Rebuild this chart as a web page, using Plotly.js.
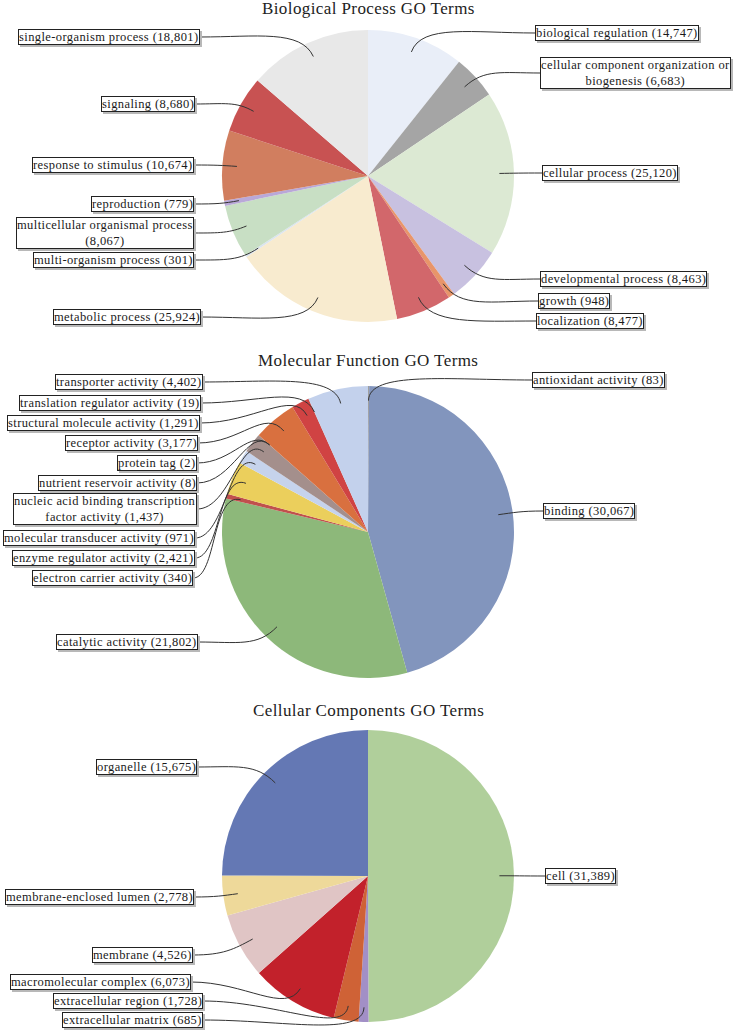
<!DOCTYPE html>
<html><head><meta charset="utf-8">
<script src="https://cdn.plot.ly/plotly-3.0.1.min.js"></script>
<style>html,body{margin:0;padding:0;background:#fff}#chart{width:736px;height:1035px}
.annotation-text{letter-spacing:0.4px}</style>
</head><body><div id="chart"></div>
<script>
// ---------- DATA ----------
const bpTitle = "Biological Process GO Terms";
const bpCats = ["biological regulation","cellular component organization or biogenesis","cellular process","developmental process","growth","localization","metabolic process","multi-organism process","multicellular organismal process","reproduction","response to stimulus","signaling","single-organism process"];
const bpVals = [14747,6683,25120,8463,948,8477,25924,301,8067,779,10674,8680,18801];

const mfTitle = "Molecular Function GO Terms";
const mfCats = ["antioxidant activity","binding","catalytic activity","electron carrier activity","enzyme regulator activity","molecular transducer activity","nucleic acid binding transcription factor activity","nutrient reservoir activity","protein tag","receptor activity","structural molecule activity","translation regulator activity","transporter activity"];
const mfVals = [83,30067,21802,340,2421,971,1437,8,2,3177,1291,19,4402];

const ccTitle = "Cellular Components GO Terms";
const ccCats = ["cell","extracellular matrix","extracellular region","macromolecular complex","membrane","membrane-enclosed lumen","organelle"];
const ccVals = [31389,685,1728,6073,4526,2778,15675];

// ---------- STYLE / LAYOUT ----------
const bpColors = ["#e9eef8","#a5a5a5","#dce9d3","#c8c1e0","#e8956a","#d2676b","#f8ebcf","#dae4ef","#c8dfc4","#b9a8d8","#d17e5f","#c85252","#e8e8e8"];
const mfColors = ["#a0a0a0","#8295bd","#8db87a","#c0504d","#ebcf5c","#c6d3ec","#a48f8c","#888888","#888888","#d9703f","#d04343","#888888","#c3d1ec"];
const ccColors = ["#b0cf9b","#a28fc6","#cf6236","#c2212b","#e0c5c5","#eed99a","#6478b4"];

// label box placement: [side, edge x (px), centre y (px)]
const bpLabelPos = [["R",535,33],["R",540,73],["R",542,173],["R",540,279],["R",538,301],["R",536,321],["L",201,317],["L",194,260],["L",194,233],["L",194,204],["L",194,165],["L",195,104],["L",200,37]];
const mfLabelPos = [["R",532,380],["R",543,511],["L",198,642],["L",193,578],["L",195,558],["L",195,538],["L",197,509],["L",197,483],["L",197,463],["L",198,443],["L",200,423],["L",201,403],["L",203,382]];
const ccLabelPos = [["R",545,876],["L",203,1020],["L",203,1001],["L",191,982],["L",193,955],["L",194,897],["L",197,767]];

const W = 736, H = 1035, R = 146;
const charts = [
  {title:bpTitle, titleY:9, cats:bpCats, vals:bpVals, colors:bpColors, pos:bpLabelPos, cx:368, cy:176},
  {title:mfTitle, titleY:361, cats:mfCats, vals:mfVals, colors:mfColors, pos:mfLabelPos, cx:368, cy:532},
  {title:ccTitle, titleY:710, cats:ccCats, vals:ccVals, colors:ccColors, pos:ccLabelPos, cx:368, cy:876}
];

const FONT = "Liberation Serif";
function fmt(v){ return v.toLocaleString("en-US"); }
function wrap(s){
  if (s.length <= 36) return s;
  const i = s.lastIndexOf(" ", 35);
  return s.slice(0,i) + "<br>" + s.slice(i+1);
}

const traces = [];
const shapes = [];
const annotations = [];

traces.push({type:"scatter", x:[0,W], y:[0,H], mode:"markers", marker:{opacity:0}, hoverinfo:"skip", showlegend:false, xaxis:"x", yaxis:"y"});

charts.forEach(c => {
  traces.push({
    type:"pie", values:c.vals, labels:c.cats, sort:false, direction:"clockwise", rotation:0,
    textinfo:"none", hoverinfo:"label+value", showlegend:false,
    marker:{colors:c.colors, line:{width:0}},
    domain:{x:[(c.cx-R)/W,(c.cx+R)/W], y:[1-(c.cy+R)/H, 1-(c.cy-R)/H]}
  });
  annotations.push({xref:"paper", yref:"paper", x:c.cx/W, y:1-c.titleY/H, xanchor:"center", yanchor:"middle",
    text:c.title, showarrow:false, font:{family:FONT, size:17, color:"#222"}});
  const total = c.vals.reduce((a,b)=>a+b,0);
  let cum = 0;
  c.vals.forEach((v,i) => {
    const th = 2*Math.PI*(cum + v/2)/total;
    cum += v;
    const ux = Math.sin(th), uy = -Math.cos(th);
    const E = {x:c.cx + 0.9*R*ux, y:c.cy + 0.9*R*uy};
    const [side, ex, ey] = c.pos[i];
    const S = {x:ex, y:ey};
    const dx = E.x - S.x;
    const dist = Math.hypot(E.x-S.x, E.y-S.y);
    const k = Math.min(30, 0.35*dist);
    const C1 = {x:S.x + 0.5*dx, y:S.y};
    const C2 = {x:E.x + ux*k, y:E.y + uy*k};
    shapes.push({type:"path", xref:"x", yref:"y", layer:"above",
      path:`M ${S.x},${S.y} C ${C1.x},${C1.y} ${C2.x},${C2.y} ${E.x},${E.y}`,
      line:{color:"#333", width:1}});
    const txt = wrap(c.cats[i] + " (" + fmt(v) + ")");
    const base = {xref:"x", yref:"y", x:ex, y:ey, xanchor: side==="L" ? "right" : "left", yanchor:"middle",
      text:txt, showarrow:false, align:"center", borderwidth:1, borderpad:0};
    annotations.push(Object.assign({}, base, {xshift:2, yshift:-2, bgcolor:"#b8b8b8", bordercolor:"#b8b8b8",
      font:{family:FONT, size:12.5, color:"rgba(0,0,0,0)"}}));
    annotations.push(Object.assign({}, base, {bgcolor:"#ffffff", bordercolor:"#222",
      font:{family:FONT, size:12.5, color:"#1a1a1a"}}));
  });
});

const layout = {
  width:W, height:H, margin:{l:0,r:0,t:0,b:0}, paper_bgcolor:"#fff", plot_bgcolor:"rgba(0,0,0,0)",
  showlegend:false, font:{family:FONT},
  xaxis:{range:[0,W], domain:[0,1], visible:false, fixedrange:true},
  yaxis:{range:[H,0], domain:[0,1], visible:false, fixedrange:true},
  shapes:shapes, annotations:annotations
};
Plotly.newPlot("chart", traces, layout, {staticPlot:true, displayModeBar:false});
</script>
</body></html>
